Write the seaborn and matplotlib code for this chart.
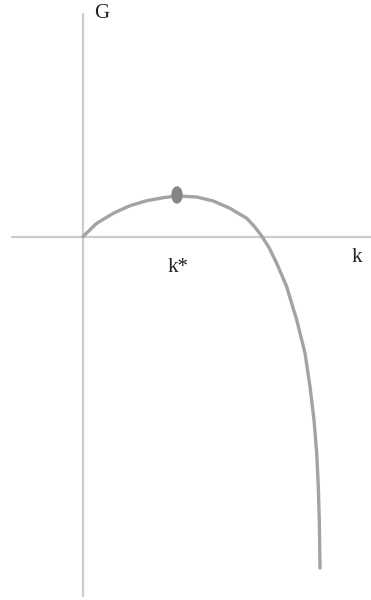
import matplotlib
matplotlib.use("Agg")
import matplotlib.pyplot as plt
from matplotlib.patches import Ellipse
import seaborn as sns
import pandas as pd

# curve G(k) (units ~ pixels, origin at axes crossing)
k_vals = [0, 13.7, 30.3, 47, 63.7, 80.3, 93.7, 113.7, 130.3, 147, 163.7, 171, 178, 186,
          193.7, 203.7, 213.7, 222, 227, 231, 233.7, 235.3, 236.3, 237]
G_vals = [0, 13.2, 23.2, 30.8, 35.8, 38.8, 40.5, 39.5, 35.5, 28.2, 18.2, 10.5, 1.5, -11,
          -26.8, -50.2, -83.5, -116.5, -150.2, -183.5, -216.5, -250.2, -283.5, -331.5]
peak_k = [94]
peak_G = [41.5]
labels = {"G": (19, 223), "k*": (95, -31), "k": (274, -21)}

sns.set_theme(style="white")
plt.rcParams['font.family'] = ['Liberation Serif', 'DejaVu Serif']

fig = plt.figure(figsize=(3.71, 6.00), dpi=100)
ax = fig.add_axes([0, 0, 1, 1])
ax.set_xlim(-83, 288)
ax.set_ylim(-363.5, 236.5)
ax.axis("off")

axis_col = "#cccccc"
ax.plot([-71, 288], [0, 0], color=axis_col, lw=1.6, zorder=1)
ax.plot([0, 0], [223, -359], color=axis_col, lw=1.6, zorder=1)

df = pd.DataFrame({"k": k_vals, "G": G_vals})
sns.lineplot(data=df, x="k", y="G", ax=ax, color="#a3a3a3", lw=2.4, sort=False, zorder=2)

for pk, pg in zip(peak_k, peak_G):
    ax.add_patch(Ellipse((pk, pg), 10, 16, color="#858585", zorder=3))

ax.text(labels["G"][0], labels["G"][1], "G", fontsize=15, ha="center", va="center", color="#222222")
ax.text(labels["k*"][0], labels["k*"][1], "k*", fontsize=15, ha="center", va="center", color="#222222")
ax.text(labels["k"][0], labels["k"][1], "k", fontsize=15, ha="center", va="center", color="#222222")

ax.set_xlabel("")
ax.set_ylabel("")
fig.savefig("out.png", dpi=100)
